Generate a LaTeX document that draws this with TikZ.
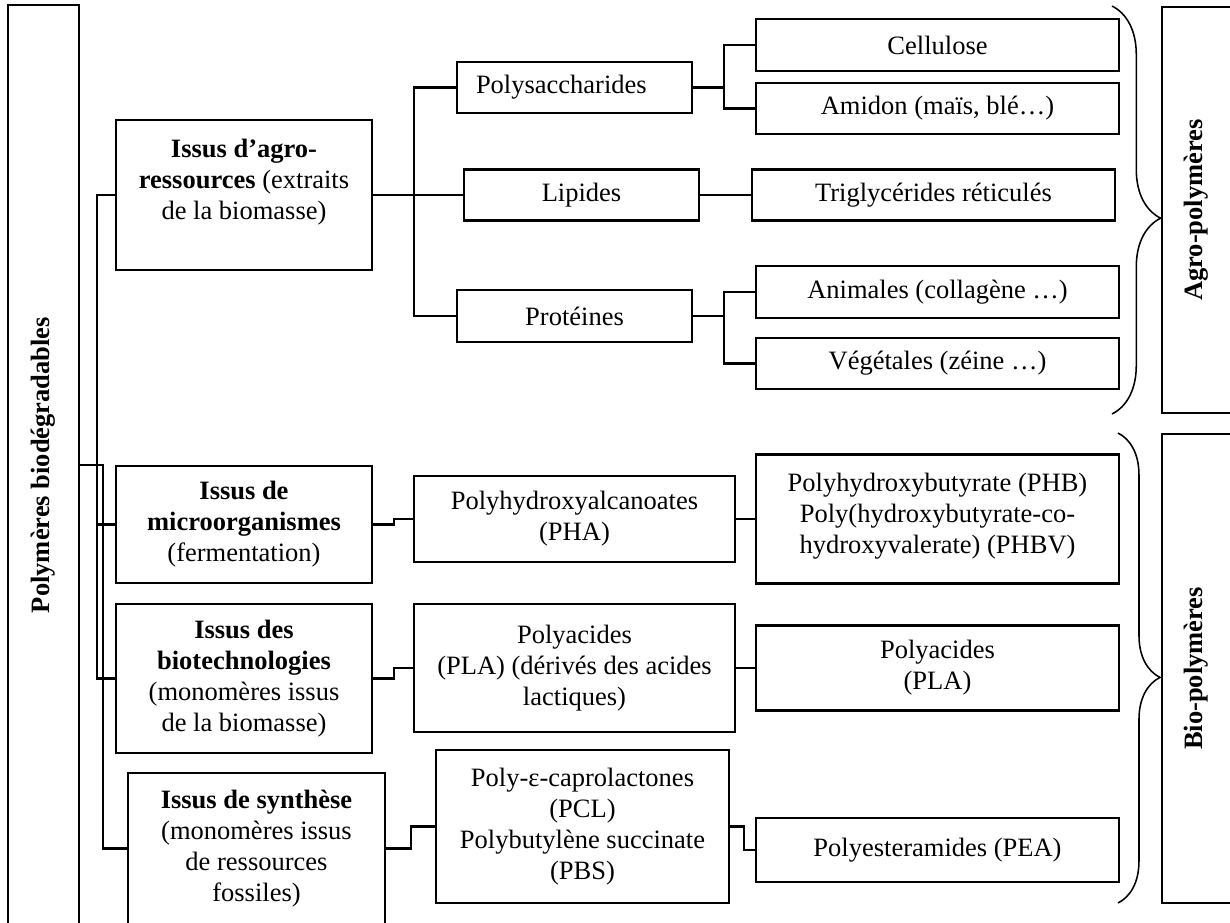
\documentclass[tikz,border=0pt]{standalone}
\usepackage{fontspec}
\setmainfont{Liberation Serif}
\usetikzlibrary{decorations.pathreplacing}

\begin{document}
\begin{tikzpicture}[x=0.4528pt,y=-0.4528pt,line width=0.95pt,
	font=\fontsize{12}{14}\selectfont,
	box/.style={draw,align=center,inner sep=0pt},
	lbl/.style={box,rotate=90,font=\fontsize{12}{14}\selectfont\bfseries},
	brc/.style={decorate,line width=0.7pt,decoration={brace,amplitude=#1,aspect=0.52}}]
	\def\px{0.4528pt}
	\useasboundingbox (0,0) rectangle (1230,922);
	\clip (0,0) rectangle (1230,922);
	\path
	(97,0) coordinate (b1)
	(103,0) coordinate (b2)
	(414,0) coordinate (b3)
	(724,0) coordinate (b4)
	;
	\node[lbl,minimum width=920*\px,minimum height=71*\px] (root) at (43.5,465) {Polymères biodégradables};
	\node[lbl,minimum width=406*\px,minimum height=69*\px] (agrol) at (1196.5,210) {Agro-polymères};
	\node[lbl,minimum width=469*\px,minimum height=69*\px] (biol) at (1196.5,668.5) {Bio-polymères};
	\node[box,minimum width=256*\px,minimum height=150*\px] (agro) at (244,195) {\textbf{Issus d’agro-}\\\textbf{ressources} (extraits\\de la biomasse)\\\mbox{}};
	\node[box,minimum width=256*\px,minimum height=117*\px] (micro) at (244,524.5) {\textbf{Issus de}\\\textbf{microorganismes}\\(fermentation)};
	\node[box,minimum width=256*\px,minimum height=149*\px] (biot) at (244,678.5) {\textbf{Issus des}\\\textbf{biotechnologies}\\(monomères issus\\de la biomasse)};
	\node[box,minimum width=257*\px,minimum height=151*\px] (synth) at (256.5,848.5) {\textbf{Issus de synthèse}\\(monomères issus\\de ressources\\fossiles)};
	\node[box,align=left,text width=197*\px,minimum width=235*\px,minimum height=51*\px] (poly) at (574.5,87.5) {Polysaccharides};
	\node[box,minimum width=235*\px,minimum height=51*\px] (lip) at (581.5,195) {Lipides};
	\node[box,minimum width=235*\px,minimum height=52*\px] (prot) at (574.5,316) {Protéines};
	\node[box,minimum width=321*\px,minimum height=86*\px] (pha) at (574.5,519) {Polyhydroxyalcanoates\\(PHA)};
	\node[box,minimum width=321*\px,minimum height=128*\px] (pla) at (574.5,668) {Polyacides\\(PLA) (dérivés des acides\\lactiques)};
	\node[box,minimum width=293*\px,minimum height=153*\px] (pcl) at (582.5,826.5) {Poly-ε-caprolactones\\(PCL)\\Polybutylène succinate\\(PBS)};
	\foreach \n/\x/\y/\h/\t in {cell/937.5/45/52/Cellulose,
		ami/937.5/108.5/51/{Amidon (maïs, blé…)},
		tri/933.5/195/51/{Triglycérides réticulés},
		ani/937.5/292/52/{Animales (collagène …)},
		veg/937.5/363.5/51/{Végétales (zéine …)},
		phb/937.5/519/129/{Polyhydroxybutyrate (PHB)\\Poly(hydroxybutyrate-co-\\hydroxyvalerate) (PHBV)\\[-8.6pt]\mbox{}},
		pla2/937.5/668/85/{Polyacides\\(PLA)},
		pea/937.5/850/64/{Polyesteramides (PEA)}}
	\node[box,minimum width=363*\px,minimum height=\h*\px] (\n) at (\x,\y) {\t};
	\draw (root.south) -- (b2 |- root.south) |- (synth.west);
	\draw (agro.west) -| (b1 |- biot.west) -- (biot.west);
	\draw (micro.west) -- (b1 |- micro.west);
	\draw (agro.east) -- (lip.west);
	\draw (poly.west) -| (b3 |- prot.west) -- (prot.west);
	\draw (poly.east) -- (b4 |- poly.east);
	\draw (cell.west) -| (b4 |- ami.west) -- (ami.west);
	\draw (lip.east) -- (tri.west);
	\draw (prot.east) -- (b4 |- prot.east);
	\draw (ani.west) -| (b4 |- veg.west) -- (veg.west);
	\draw (micro.east) -- ++(21,0) |- (pha.west);
	\draw (biot.east) -- ++(21,0) |- (pla.west);
	\draw (synth.east) -- ++(25,0) |- (pcl.west);
	\draw (pha.east) -- (phb.west);
	\draw (pla.east) -- (pla2.west);
	\draw (pcl.east) -- ++(14,0) |- (pea.west);
	\draw[brc=22pt] (1112,6) -- (1112,414);
	\draw[brc=19pt] (1118,433) -- (1118,903);
\end{tikzpicture}
\end{document}
